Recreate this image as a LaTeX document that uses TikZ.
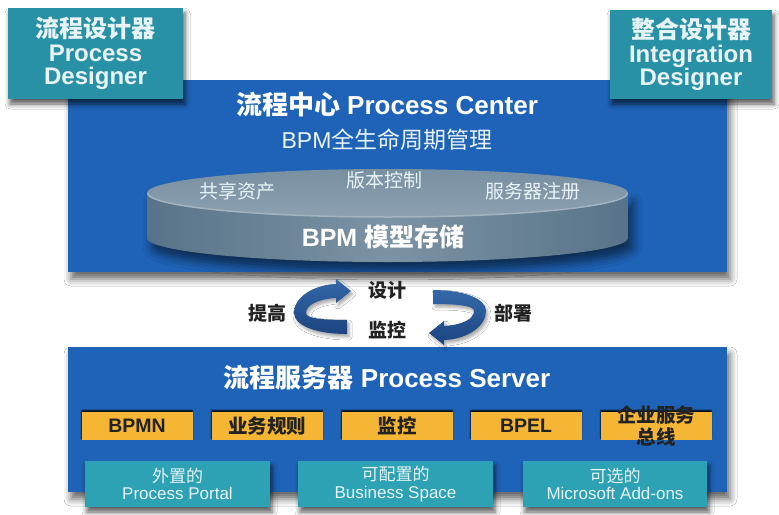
\documentclass[tikz,border=0pt]{standalone}
\usepackage{fontspec}
\setmainfont{Liberation Sans}
\newfontfamily\cjk{Noto Sans CJK SC}
\usetikzlibrary{shadows.blur}
\definecolor{pcblue}{HTML}{1E63B8}
\definecolor{tealtop}{HTML}{2891A6}
\definecolor{tealbot}{HTML}{2CA2B4}
\definecolor{orangebox}{HTML}{F4B634}
\definecolor{txtlight}{HTML}{E8F3F5}
\definecolor{txtdark}{HTML}{222222}
\definecolor{cyltopA}{HTML}{7990A2}
\definecolor{cyltopB}{HTML}{8CA0B0}
\definecolor{cylrim}{HTML}{A3B3BF}
\definecolor{cyledge}{HTML}{587389}
\definecolor{cylmid}{HTML}{7C93A4}
\definecolor{arrowL}{HTML}{3468A8}
\definecolor{arrowD}{HTML}{1C4480}
\tikzset{
  bluepanel/.style={fill=pcblue, minimum width=659pt, inner sep=0pt, outer sep=0pt,
    blur shadow={shadow xshift=3pt, shadow yshift=-7pt, shadow blur radius=7pt, shadow opacity=60}},
  designer/.style={fill=tealtop, text=txtlight, align=center, inner sep=0pt, outer sep=0pt,
    font={\fontsize{24}{23.5}\selectfont\bfseries},
    blur shadow={shadow xshift=2pt, shadow yshift=-5pt, shadow blur radius=5pt, shadow opacity=65}},
  titletext/.style={text=white, font={\fontsize{26}{28}\selectfont\bfseries}, inner sep=0pt},
  subtext/.style={text=txtlight, font={\fontsize{23}{25}\selectfont}, inner sep=0pt},
  cyllabel/.style={text=txtlight, font={\cjk\fontsize{19}{21}\selectfont}, inner sep=0pt},
  cylbig/.style={text=white, font={\fontsize{25}{27}\selectfont\bfseries}, inner sep=0pt},
  cyclelabel/.style={text=txtdark, font={\cjk\fontsize{19}{21}\selectfont\bfseries}, inner sep=0pt},
  engine/.style={fill=orangebox, minimum width=111pt, minimum height=28pt, inner sep=0pt, outer sep=0pt,
    blur shadow={shadow xshift=0pt, shadow yshift=2pt, shadow blur radius=1pt, shadow opacity=85}},
  enginetext/.style={text=txtdark, font={\fontsize{19.5}{22}\selectfont\bfseries}, align=center, inner sep=0pt},
  addon/.style={fill=tealbot, text=txtlight, align=center, minimum height=46pt, inner sep=0pt, outer sep=0pt,
    font={\fontsize{17}{17.5}\selectfont},
    blur shadow={shadow xshift=2pt, shadow yshift=-5pt, shadow blur radius=5pt, shadow opacity=65}},
  cyclearrow/.style={top color=arrowL, bottom color=arrowD,
    blur shadow={shadow xshift=2pt, shadow yshift=-3pt, shadow blur radius=3pt, shadow opacity=35}},
  cylside/.style={left color=cyledge, right color=cyledge, middle color=cylmid,
    blur shadow={shadow xshift=5pt, shadow yshift=-9pt, shadow blur radius=9pt, shadow opacity=55}}
}
\begin{document}
\begin{tikzpicture}[x=1pt,y=-1pt]
\useasboundingbox (0,0) rectangle (779,514);
\fill[white] (0,0) rectangle (779,514);

% Process Center panel
\node[bluepanel, minimum height=192pt] (pc) at (397.5,176) {};
% Process Server panel
\node[bluepanel, minimum height=145pt] (ps) at (397.5,419.5) {};

% designers
\node[designer, minimum width=175pt, minimum height=91pt] (pd) at (95.5,53.5)
  {{\cjk 流程设计器}\\Process\\Designer};
\node[designer, minimum width=162pt, minimum height=89pt] (idg) at (691,54.5)
  {{\cjk 整合设计器}\\Integration\\Designer};

% titles
\node[titletext] (pctitle) at (387,105) {{\cjk 流程中心} Process Center};
\node[subtext] (pcsub) at (387,140) {BPM{\cjk 全生命周期管理}};

% cylinder
\path[cylside]
  (147,193) -- (147,238) arc[start angle=180, end angle=0, x radius=240.5, y radius=24]
  -- (628,193) arc[start angle=0, end angle=180, x radius=240.5, y radius=24] -- cycle;
\path[top color=cyltopA, bottom color=cyltopB] (387.5,193) ellipse[x radius=240.5, y radius=24];
\draw[cylrim, line width=1.5pt] (147.5,193) arc[start angle=180, end angle=0, x radius=240, y radius=24];
\node[cyllabel] (share) at (237,191) {共享资产};
\node[cyllabel] (version) at (384,180) {版本控制};
\node[cyllabel] (registry) at (533,191) {服务器注册};
\node[cylbig] (repo) at (383,237) {BPM {\cjk 模型存储}};

% cycle arrows
\def\cyclepath{(347,334) .. controls (315,334) and (294,325) .. (294,313)
  .. controls (294,298) and (312,285) .. (336,284) -- (336,279) -- (351,291) -- (336,303) -- (336,298)
  .. controls (318,299) and (306,305) .. (306,313) .. controls (306,318) and (320,320) .. (347,320) -- cycle}
\path[cyclearrow] \cyclepath;
\begin{scope}[rotate around={180:(390,312)}]
\path[cyclearrow] \cyclepath;
\end{scope}
\node[cyclelabel] (improve) at (267,313) {提高};
\node[cyclelabel] (design) at (387,290) {设计};
\node[cyclelabel] (monitor) at (387,330) {监控};
\node[cyclelabel] (deploy) at (513,313) {部署};

% Process Server
\node[titletext] (pstitle) at (387,378) {{\cjk 流程服务器} Process Server};
\node[engine] (bpmn) at (137,426) {};
\node[engine] (rules) at (267,426) {};
\node[engine] (mon) at (397,426) {};
\node[engine] (bpel) at (526,426) {};
\node[engine] (esb) at (656,426) {};
\node[enginetext] (bpmnt) at (bpmn) {BPMN};
\node[enginetext] (rulest) at (rules) {\cjk 业务规则};
\node[enginetext] (mont) at (mon) {\cjk 监控};
\node[enginetext] (bpelt) at (bpel) {BPEL};
\node[enginetext, font={\cjk\fontsize{19.5}{22}\selectfont\bfseries}] (esbt) at (esb) {企业服务\\总线};

\node[addon, minimum width=185pt] (portal) at (177.5,484) {{\cjk 外置的}\\Process Portal};
\node[addon, minimum width=195pt] (space) at (395.5,484) {{\cjk 可配置的}\\Business Space};
\node[addon, minimum width=184pt] (msaddon) at (615,484) {{\cjk 可选的}\\Microsoft Add-ons};
\end{tikzpicture}
\end{document}
